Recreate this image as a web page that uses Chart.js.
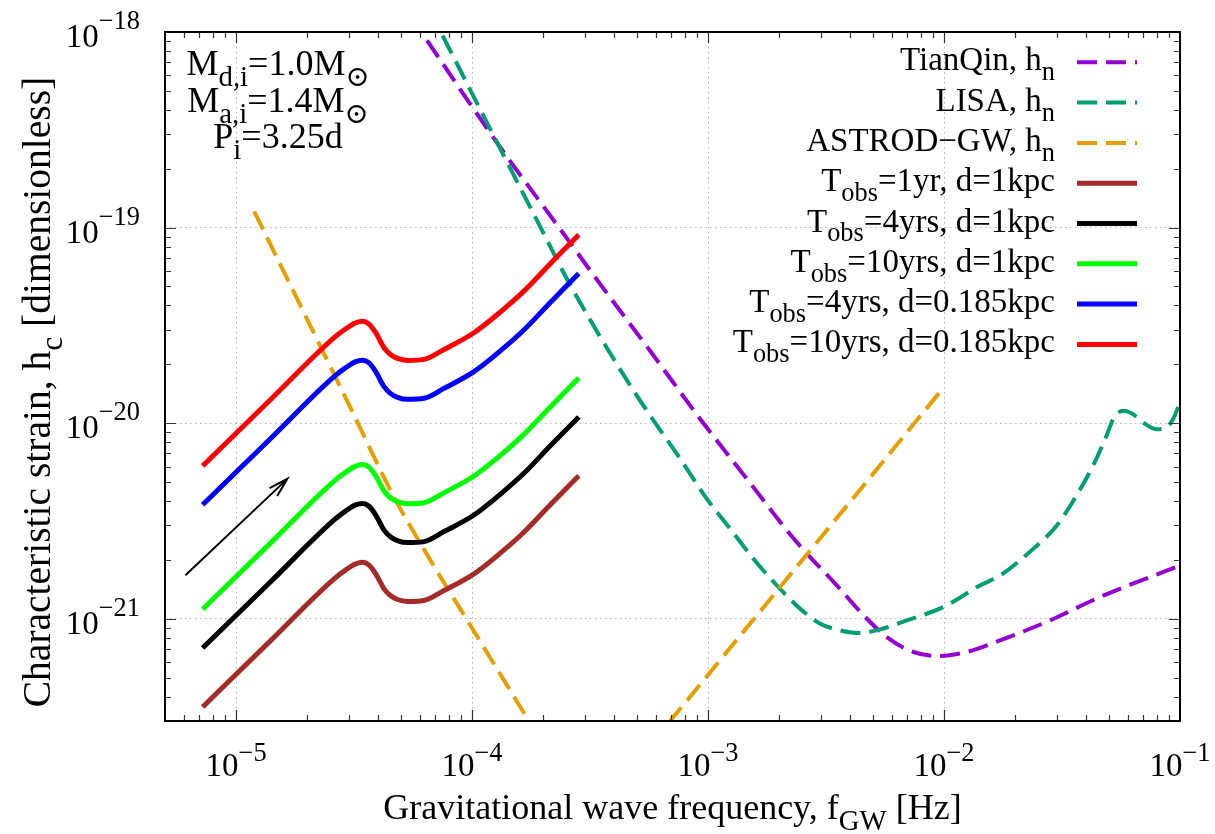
<!DOCTYPE html>
<html>
<head>
<meta charset="utf-8">
<title>Characteristic strain vs GW frequency</title>
<script src="https://cdn.jsdelivr.net/npm/chart.js@4.4.0/dist/chart.umd.min.js"></script>
<style>
  html, body { margin: 0; padding: 0; background: #fff; }
  #wrap { width: 1215px; height: 834px; }
</style>
</head>
<body>
<div id="wrap"><canvas id="chart" width="1215" height="834"></canvas></div>
<script>
// ---- values ----
// binary tracks (same frequency grid for all five)
const binaryFreq = [7.22e-6, 1.405e-5, 2.603e-5, 2.918e-5, 3.217e-5, 3.443e-5, 3.650e-5, 3.908e-5, 4.238e-5, 4.523e-5,
                    4.83e-5, 5.32e-5, 6.26e-5, 7.61e-5, 1.019e-4, 1.321e-4, 1.658e-4, 2.151e-4, 2.834e-4];
const hcT1d1 = [3.54e-22, 7.75e-22, 1.600e-21, 1.778e-21, 1.908e-21, 1.942e-21, 1.885e-21, 1.697e-21, 1.422e-21, 1.310e-21,
                1.254e-21, 1.225e-21, 1.240e-21, 1.394e-21, 1.697e-21, 2.171e-21, 2.77e-21, 3.84e-21, 5.38e-21];
const hcT4d1 = [7.08e-22, 1.55e-21, 3.20e-21, 3.56e-21, 3.82e-21, 3.88e-21, 3.77e-21, 3.39e-21, 2.84e-21, 2.62e-21,
                2.51e-21, 2.45e-21, 2.48e-21, 2.79e-21, 3.39e-21, 4.34e-21, 5.54e-21, 7.68e-21, 1.076e-20];
const hcT10d1 = [1.119e-21, 2.451e-21, 5.06e-21, 5.62e-21, 6.03e-21, 6.14e-21, 5.96e-21, 5.37e-21, 4.50e-21, 4.14e-21,
                 3.97e-21, 3.87e-21, 3.92e-21, 4.41e-21, 5.37e-21, 6.86e-21, 8.76e-21, 1.214e-20, 1.701e-20];
const hcT4d0185 = [3.83e-21, 8.38e-21, 1.730e-20, 1.922e-20, 2.063e-20, 2.099e-20, 2.038e-20, 1.834e-20, 1.537e-20, 1.416e-20,
                   1.356e-20, 1.324e-20, 1.340e-20, 1.507e-20, 1.834e-20, 2.347e-20, 2.994e-20, 4.15e-20, 5.82e-20];
const hcT10d0185 = [6.05e-21, 1.324e-20, 2.734e-20, 3.039e-20, 3.261e-20, 3.319e-20, 3.221e-20, 2.900e-20, 2.430e-20, 2.239e-20,
                    2.143e-20, 2.094e-20, 2.119e-20, 2.382e-20, 2.900e-20, 3.710e-20, 4.73e-20, 6.56e-20, 9.19e-20];

// detector noise curves
const tianqinF = [5.5e-5, 1.321e-4, 2.371e-4, 3.50e-4, 5.70e-4, 9.28e-4, 1.462e-3, 2.379e-3, 3.514e-3, 4.71e-3,
                  5.72e-3, 7.42e-3, 9.62e-3, 1.247e-2, 1.726e-2, 2.81e-2, 4.57e-2, 0.1];
const tianqinH = [1.2e-18, 2.56e-19, 9.77e-20, 5.12e-20, 2.33e-20, 1.048e-20, 5.18e-21, 2.46e-21, 1.48e-21, 1.0e-21,
                  8.06e-22, 6.76e-22, 6.45e-22, 6.76e-22, 7.75e-22, 9.8e-22, 1.29e-21, 1.87e-21];
const lisaF = [6.6e-5, 1.199e-4, 1.951e-4, 2.531e-4, 3.50e-4, 5.17e-4, 7.64e-4, 9.90e-4, 1.243e-3, 1.560e-3,
               1.959e-3, 2.458e-3, 2.988e-3, 3.63e-3, 4.41e-3, 5.36e-3, 6.95e-3, 9.93e-3, 1.420e-2, 1.726e-2,
               2.387e-2, 3.00e-2, 3.64e-2, 4.28e-2, 4.88e-2, 5.21e-2, 5.74e-2, 6.33e-2, 6.97e-2, 7.95e-2,
               8.76e-2, 9.34e-2, 0.1];
const lisaH = [1.3e-18, 3.16e-19, 1.003e-19, 5.43e-20, 2.75e-20, 1.295e-20, 6.55e-21, 4.09e-21, 2.88e-21, 2.02e-21,
               1.479e-21, 1.125e-21, 9.43e-22, 8.72e-22, 8.45e-22, 8.82e-22, 9.80e-22, 1.147e-21, 1.479e-21, 1.663e-21,
               2.276e-21, 2.99e-21, 4.26e-21, 6.06e-21, 8.61e-21, 1.048e-20, 1.156e-20, 1.111e-20, 1.008e-20, 9.32e-21,
               9.51e-21, 1.048e-20, 1.275e-20];
const astrodF = [1.194e-5, 1.882e-5, 3.063e-5, 4.67e-5, 6.68e-5, 9.86e-5, 1.321e-4, 1.714e-4, 2.2e-4, 3.3e-4,
                 5.0e-4, 6.99e-4, 1.0e-3, 2.0e-3, 5.0e-3, 1.0e-2];
const astrodH = [1.21e-19, 3.95e-20, 1.19e-20, 4.19e-21, 1.98e-21, 9.21e-22, 5.18e-22, 3.09e-22, 1.88e-22, 1.3e-22,
                 1.86e-22, 3.05e-22, 5.16e-22, 1.43e-21, 5.5e-21, 1.53e-20];

// axes
const xRange = [5e-6, 0.1];
const yRange = [3e-22, 1e-18];
const xTickVals = [1e-5, 1e-4, 1e-3, 1e-2, 1e-1];
const xTickExp = ['\u22125', '\u22124', '\u22123', '\u22122', '\u22121'];
const yTickVals = [1e-21, 1e-20, 1e-19, 1e-18];
const yTickExp = ['\u221221', '\u221220', '\u221219', '\u221218'];

// arrow (data coordinates)
const arrowFrom = [6.1e-6, 1.67e-21];
const arrowTo = [1.65e-5, 5.19e-21];

// texts: [text, 'sub'|'sup'|undefined]
const xTitle = [['Gravitational wave frequency, f'], ['GW', 'sub'], [' [Hz]']];
const yTitle = [['Characteristic strain, h'], ['c', 'sub'], [' [dimensionless]']];
const legendLabels = [
  [['TianQin, h'], ['n', 'sub']],
  [['LISA, h'], ['n', 'sub']],
  [['ASTROD\u2212GW, h'], ['n', 'sub']],
  [['T'], ['obs', 'sub'], ['=1yr, d=1kpc']],
  [['T'], ['obs', 'sub'], ['=4yrs, d=1kpc']],
  [['T'], ['obs', 'sub'], ['=10yrs, d=1kpc']],
  [['T'], ['obs', 'sub'], ['=4yrs, d=0.185kpc']],
  [['T'], ['obs', 'sub'], ['=10yrs, d=0.185kpc']]
];
const noteLines = [
  [['M'], ['d,i', 'sub'], ['=1.0M'], ['\u2299', 'sub']],
  [['M'], ['a,i', 'sub'], ['=1.4M'], ['\u2299', 'sub']],
  [['P'], ['i', 'sub'], ['=3.25d']]
];

// ---- drawing ----
const FONT = '"Liberation Serif", "Times New Roman", "DejaVu Serif", serif';
const pts = (xs, ys) => xs.map((v, i) => ({ x: v, y: ys[i] }));

function setFont(ctx, size) { ctx.font = size + 'px ' + FONT; }

function richWidth(ctx, parts, size) {
  let w = 0;
  for (const [t, kind] of parts) {
    setFont(ctx, kind ? size * 0.8 : size);
    w += ctx.measureText(t).width;
  }
  return w;
}

function drawRich(ctx, parts, x, y, size, align, raise) {
  const w = richWidth(ctx, parts, size);
  let cx = align === 'right' ? x - w : align === 'center' ? x - w / 2 : x;
  ctx.textAlign = 'left';
  ctx.textBaseline = 'alphabetic';
  for (const [t, kind] of parts) {
    setFont(ctx, kind ? size * 0.8 : size);
    let dy = 0;
    if (kind === 'sub') dy = size * 0.3;
    if (kind === 'sup') dy = -(raise || size * 0.5);
    ctx.fillText(t, cx, y + dy);
    cx += ctx.measureText(t).width;
  }
}

const isDecade = v => Math.abs(Math.log10(v) - Math.round(Math.log10(v))) < 1e-6;

const dashed = { borderWidth: 4, borderDash: [20, 9] };
const solid = { borderWidth: 5 };
const series = [
  { data: pts(tianqinF, tianqinH), color: '#9400d3', style: dashed },
  { data: pts(lisaF, lisaH), color: '#009e73', style: dashed },
  { data: pts(astrodF, astrodH), color: '#e69f00', style: dashed },
  { data: pts(binaryFreq, hcT1d1), color: '#a52a2a', style: solid },
  { data: pts(binaryFreq, hcT4d1), color: '#000000', style: solid },
  { data: pts(binaryFreq, hcT10d1), color: '#00ff00', style: solid },
  { data: pts(binaryFreq, hcT4d0185), color: '#0000ff', style: solid },
  { data: pts(binaryFreq, hcT10d0185), color: '#ff0000', style: solid }
];

const decor = {
  id: 'decor',
  afterDatasetsDraw(chart) {
    const { ctx, scales: { x, y } } = chart;
    // arrow
    const x0 = x.getPixelForValue(arrowFrom[0]), y0 = y.getPixelForValue(arrowFrom[1]);
    const x1 = x.getPixelForValue(arrowTo[0]), y1 = y.getPixelForValue(arrowTo[1]);
    const ang = Math.atan2(y1 - y0, x1 - x0), hl = 20, ha = 16 * Math.PI / 180;
    ctx.save();
    ctx.strokeStyle = '#000';
    ctx.lineWidth = 2;
    ctx.beginPath();
    ctx.moveTo(x0, y0); ctx.lineTo(x1, y1);
    ctx.moveTo(x1 - hl * Math.cos(ang - ha), y1 - hl * Math.sin(ang - ha));
    ctx.lineTo(x1, y1);
    ctx.lineTo(x1 - hl * Math.cos(ang + ha), y1 - hl * Math.sin(ang + ha));
    ctx.stroke();
    ctx.restore();
  },
  afterDraw(chart) {
    const { ctx, chartArea: a, scales: { x, y } } = chart;
    ctx.save();
    // inward ticks on all four sides
    ctx.strokeStyle = '#333';
    ctx.lineWidth = 1.2;
    ctx.beginPath();
    for (let d = -6; d <= -1; d++) {
      for (let m = 1; m <= 9; m++) {
        const v = m * Math.pow(10, d);
        if (v <= xRange[0] * 1.0001 || v >= xRange[1] * 0.9999) continue;
        const px = Math.round(x.getPixelForValue(v)) + 0.5, len = m === 1 ? 11 : 6;
        ctx.moveTo(px, a.bottom); ctx.lineTo(px, a.bottom - len);
        ctx.moveTo(px, a.top); ctx.lineTo(px, a.top + len);
      }
    }
    for (let d = -23; d <= -18; d++) {
      for (let m = 1; m <= 9; m++) {
        const v = m * Math.pow(10, d);
        if (v <= yRange[0] * 1.0001 || v >= yRange[1] * 0.9999) continue;
        const py = Math.round(y.getPixelForValue(v)) + 0.5, len = m === 1 ? 11 : 6;
        ctx.moveTo(a.left, py); ctx.lineTo(a.left + len, py);
        ctx.moveTo(a.right, py); ctx.lineTo(a.right - len, py);
      }
    }
    ctx.stroke();
    // frame
    ctx.strokeStyle = '#000';
    ctx.lineWidth = 2;
    ctx.strokeRect(a.left, a.top, a.right - a.left, a.bottom - a.top);

    ctx.fillStyle = '#000';
    // tick labels
    xTickVals.forEach((v, i) => {
      drawRich(ctx, [['10'], [xTickExp[i], 'sup']], x.getPixelForValue(v), 776, 33, 'center', 15);
    });
    yTickVals.forEach((v, i) => {
      drawRich(ctx, [['10'], [yTickExp[i], 'sup']], 140, y.getPixelForValue(v) + 15, 33, 'right', 18);
    });
    // axis titles
    drawRich(ctx, xTitle, (a.left + a.right) / 2, 819, 36, 'center');
    ctx.save();
    ctx.translate(50, 392);
    ctx.rotate(-Math.PI / 2);
    drawRich(ctx, yTitle, 0, 0, 39.5, 'center');
    ctx.restore();

    // parameter note
    noteLines.forEach((ln, i) => drawRich(ctx, ln, 278, 75 + i * 36.7, 36, 'center'));

    // legend
    series.forEach((s, i) => {
      const ly = 62.3 + i * 40.3;
      drawRich(ctx, legendLabels[i], 1055, ly + 8, 33, 'right');
      ctx.save();
      ctx.strokeStyle = s.color;
      ctx.lineWidth = s.style.borderWidth;
      ctx.setLineDash(s.style.borderDash || []);
      ctx.beginPath();
      ctx.moveTo(1077, ly); ctx.lineTo(1137, ly);
      ctx.stroke();
      ctx.restore();
    });
    ctx.restore();
  }
};

const gridOpts = {
  drawTicks: false,
  lineWidth: 1,
  color: c => (c.tick && isDecade(c.tick.value)) ? '#b4b4b4' : 'rgba(0,0,0,0)'
};

new Chart(document.getElementById('chart'), {
  type: 'line',
  data: {
    datasets: series.map((s, i) => Object.assign({
      data: s.data,
      borderColor: s.color,
      backgroundColor: s.color,
      pointRadius: 0,
      fill: false,
      cubicInterpolationMode: 'monotone',
      clip: 0,
      order: series.length - i
    }, s.style))
  },
  options: {
    responsive: false,
    animation: false,
    devicePixelRatio: 1,
    events: [],
    layout: { padding: { left: 0, top: 32, right: 35, bottom: 0 } },
    plugins: { legend: { display: false }, tooltip: { enabled: false } },
    scales: {
      x: {
        type: 'logarithmic', min: xRange[0], max: xRange[1],
        ticks: { display: false },
        grid: gridOpts,
        border: { display: false, dash: [1.5, 3.5] },
        afterFit(s) { s.height = 113; }
      },
      y: {
        type: 'logarithmic', min: yRange[0], max: yRange[1],
        ticks: { display: false },
        grid: gridOpts,
        border: { display: false, dash: [1.5, 3.5] },
        afterFit(s) { s.width = 165; }
      }
    }
  },
  plugins: [decor]
});
</script>
</body>
</html>
